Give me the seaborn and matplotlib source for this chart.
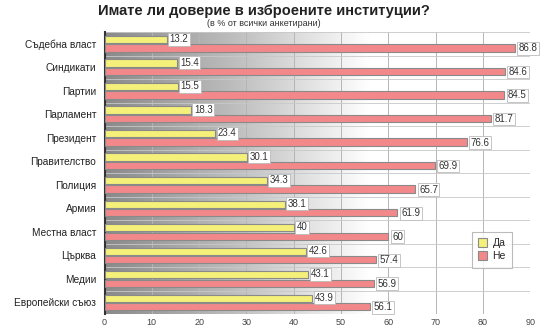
import numpy as np
import pandas as pd
import matplotlib
matplotlib.use("Agg")
import matplotlib.pyplot as plt
import seaborn as sns
from matplotlib.colors import LinearSegmentedColormap

categories = ["Съдебна власт", "Синдикати", "Партии", "Парламент", "Президент",
              "Правителство", "Полиция", "Армия", "Местна власт", "Църква",
              "Медии", "Европейски съюз"]
yes_vals = [13.2, 15.4, 15.5, 18.3, 23.4, 30.1, 34.3, 38.1, 40, 42.6, 43.1, 43.9]
no_vals = [86.8, 84.6, 84.5, 81.7, 76.6, 69.9, 65.7, 61.9, 60, 57.4, 56.9, 56.1]
yes_labels = ["13.2", "15.4", "15.5", "18.3", "23.4", "30.1", "34.3", "38.1", "40", "42.6", "43.1", "43.9"]
no_labels = ["86.8", "84.6", "84.5", "81.7", "76.6", "69.9", "65.7", "61.9", "60", "57.4", "56.9", "56.1"]
series = ["Да", "Не"]
xticks = [0, 10, 20, 30, 40, 50, 60, 70, 80, 90]

df = pd.DataFrame({
    "cat": categories * 2,
    "val": yes_vals + no_vals,
    "series": [series[0]] * len(categories) + [series[1]] * len(categories),
})

sns.set_style("white")
plt.rcParams['font.family'] = ['Liberation Sans', 'DejaVu Sans']

fig = plt.figure(figsize=(5.5, 3.3), dpi=100)
ax = fig.add_axes([0.19, 0.048, 0.774, 0.855])

n = len(categories)
# background gradient
grad = np.linspace(0, 1, 256).reshape(1, -1)
cmap = LinearSegmentedColormap.from_list("bg", [(0, "#8a8a8a"), (0.3, "#bdbdbd"), (0.62, "#ffffff"), (1, "#ffffff")])
ax.imshow(grad, extent=[0, 90, n - 0.5, -0.5], aspect="auto", cmap=cmap, zorder=0)

sns.barplot(data=df, y="cat", x="val", hue="series", orient="h",
            palette=["#f4f07a", "#f2888a"], saturation=1, width=0.72, gap=0.15,
            edgecolor="#8a8a8a", linewidth=0.8, ax=ax, zorder=3, legend=True)

ax.set_xlim(0, 90)
ax.set_ylim(n - 0.5, -0.5)
ax.set_xticks(xticks)
ax.set_xticklabels([str(t) for t in xticks], fontsize=6.5, color="#444444")
ax.set_yticks(range(n))
ax.set_yticklabels(categories, fontsize=7.3, color="#222222")
ax.set_xlabel("")
ax.set_ylabel("")
ax.tick_params(axis="y", length=0, pad=6)
ax.tick_params(axis="x", length=0, pad=3)
ax.set_yticks(np.arange(-0.5, n, 1), minor=True)
ax.tick_params(axis="y", which="minor", length=4, color="#333333", width=1)

for t in xticks[1:]:
    ax.axvline(t, color="#b5b5b5", lw=0.7, zorder=1)
for b in np.arange(-0.5, n, 1):
    ax.axhline(b, color="#c8c8c8", lw=0.6, zorder=1)

for sp in ["top", "right"]:
    ax.spines[sp].set_visible(False)
ax.spines["left"].set_color("#333333")
ax.spines["left"].set_linewidth(1.5)
ax.spines["bottom"].set_visible(False)

box = dict(boxstyle="square,pad=0.15", fc="white", ec="#bbbbbb", lw=0.6)
for i in range(n):
    ax.text(yes_vals[i] + 0.6, i - 0.2, yes_labels[i], fontsize=7, va="center", ha="left",
            color="#333333", bbox=box, zorder=5)
    ax.text(no_vals[i] + 0.8, i + 0.2, no_labels[i], fontsize=7, va="center", ha="left",
            color="#333333", bbox=box, zorder=5)

leg = ax.legend(loc="upper left", bbox_to_anchor=(0.85, 0.31), fontsize=7.5, frameon=True,
                fancybox=False, edgecolor="#aaaaaa", handlelength=0.9, handleheight=0.9,
                handletextpad=0.5, borderpad=0.6, labelspacing=0.3, title=None)
leg.get_frame().set_linewidth(0.8)

fig.text(0.479, 0.967, "Имате ли доверие в изброените институции?", ha="center", va="center",
         fontsize=10.5, fontweight="bold", color="#222222")
fig.text(0.479, 0.93, "(в % от всички анкетирани)", ha="center", va="center",
         fontsize=6.5, color="#333333")

fig.savefig("out.png", dpi=100, facecolor="white")
